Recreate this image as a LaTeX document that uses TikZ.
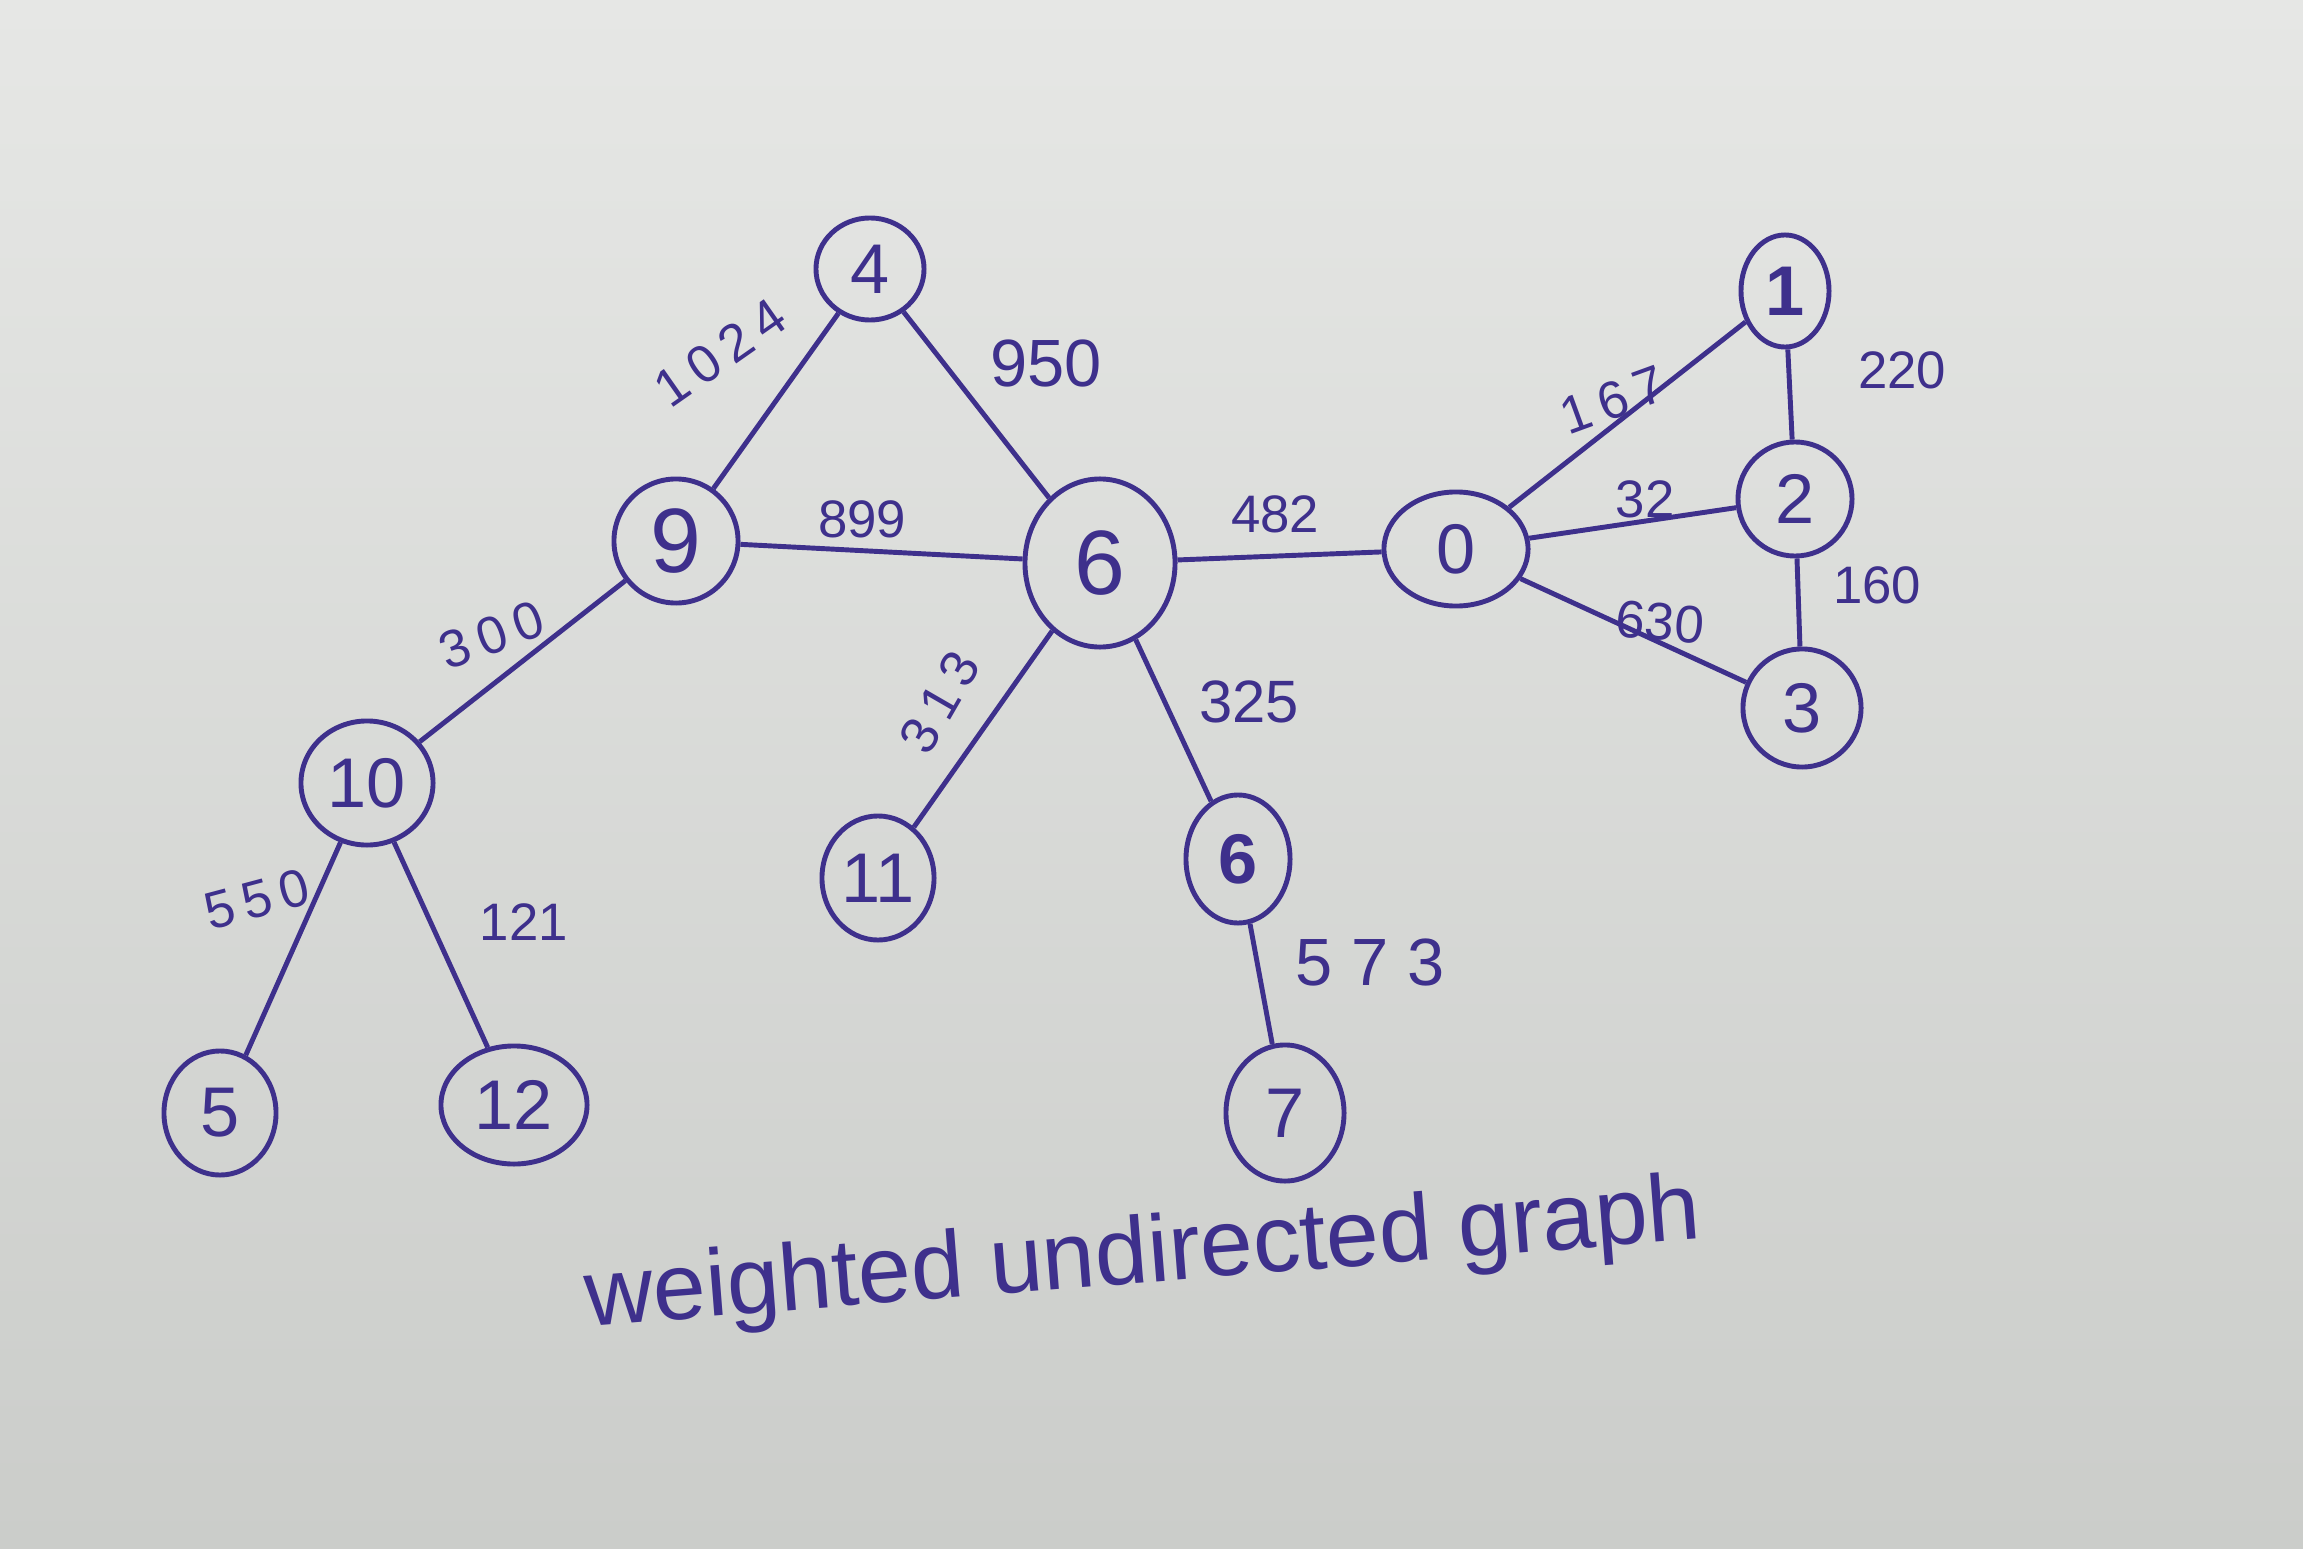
\documentclass[tikz,border=0pt]{standalone}
\usepackage{fontspec}
\setmainfont{Liberation Sans}
\usetikzlibrary{shapes.geometric}
\definecolor{ink}{RGB}{62,48,140}
\definecolor{papertop}{RGB}{230,231,229}
\definecolor{paperbot}{RGB}{203,205,202}
\newcommand{\dsp}{\hspace{0.18em}}
\tikzset{
  vert/.style={draw=ink, line width=1.4pt, ellipse, inner sep=0pt, text=ink, font=\fontsize{20}{22}\selectfont},
  wlabel/.style={text=ink, inner sep=1pt, font=\fontsize{15}{17}\selectfont},
  edge/.style={draw=ink, line width=1.4pt},
  caption/.style={text=ink, font=\fontsize{27}{31}\selectfont}
}
\begin{document}
\begin{tikzpicture}[x=0.01cm,y=-0.01cm]
\shade[top color=papertop, bottom color=paperbot] (0,0) rectangle (2303,1549);
\useasboundingbox (0,0) rectangle (2303,1549);
% vertices
\node[vert, minimum width=1.08cm, minimum height=1.02cm] (n4) at (870,269) {4};
\node[vert, minimum width=1.24cm, minimum height=1.24cm, font=\fontsize{26}{28}\selectfont] (n9) at (676,541) {9};
\node[vert, minimum width=1.50cm, minimum height=1.68cm, font=\fontsize{26}{28}\selectfont] (n6) at (1100,563) {6};
\node[vert, minimum width=1.44cm, minimum height=1.14cm] (n0) at (1456,549) {0};
\node[vert, minimum width=0.88cm, minimum height=1.12cm] (n1) at (1785,291) {\textbf{1}};
\node[vert, minimum width=1.14cm, minimum height=1.14cm] (n2) at (1795,499) {2};
\node[vert, minimum width=1.18cm, minimum height=1.18cm] (n3) at (1802,708) {3};
\node[vert, minimum width=1.32cm, minimum height=1.24cm] (n10) at (367,783) {10};
\node[vert, minimum width=1.12cm, minimum height=1.24cm] (n11) at (878,878) {11};
\node[vert, minimum width=1.04cm, minimum height=1.28cm] (n6b) at (1238,859) {\textbf{6}};
\node[vert, minimum width=1.12cm, minimum height=1.24cm] (n5) at (220,1113) {5};
\node[vert, minimum width=1.46cm, minimum height=1.18cm] (n12) at (514,1105) {12};
\node[vert, minimum width=1.18cm, minimum height=1.36cm] (n7) at (1285,1113) {7};
% edges
\draw[edge] (n4) -- (n9);
\draw[edge] (n4) -- (n6);
\draw[edge] (n9) -- (n6);
\draw[edge] (n6) -- (n0);
\draw[edge] (n9) -- (n10);
\draw[edge] (n6) -- (n11);
\draw[edge] (n6) -- (n6b);
\draw[edge] (n10) -- (n5);
\draw[edge] (n10) -- (n12);
\draw[edge] (n6b) -- (n7);
\draw[edge] (n0) -- (n1);
\draw[edge] (n0) -- (n2);
\draw[edge] (n0) -- (n3);
\draw[edge] (n1) -- (n2);
\draw[edge] (n2) -- (n3);
% weights
\node[wlabel, rotate=35] (l1024) at (720,353) {1\dsp0\dsp2\dsp4};
\node[wlabel, font=\fontsize{19}{21}\selectfont] (l950) at (1046,364) {950};
\node[wlabel] (l899) at (862,519) {899};
\node[wlabel] (l482) at (1275,514) {482};
\node[wlabel, rotate=20] (l300) at (492,635) {3\dsp0\dsp0};
\node[wlabel, rotate=60] (l313) at (940,702) {3\dsp1\dsp3};
\node[wlabel, font=\fontsize{17}{19}\selectfont] (l325) at (1249,702) {325};
\node[wlabel, rotate=15] (l550) at (257,899) {5\dsp5\dsp0};
\node[wlabel] (l121) at (524,922) {121};
\node[wlabel, font=\fontsize{19}{21}\selectfont] (l573) at (1370,962) {5 7 3};
\node[wlabel, rotate=20] (l167) at (1613,400) {1\dsp6\dsp7};
\node[wlabel] (l32) at (1645,499) {32};
\node[wlabel, rotate=-5] (l630) at (1660,622) {630};
\node[wlabel] (l220) at (1902,370) {220};
\node[wlabel] (l160) at (1877,585) {160};
% caption
\node[caption, rotate=4.5] (cap) at (1143,1258) {weighted undirected graph};
\end{tikzpicture}
\end{document}
